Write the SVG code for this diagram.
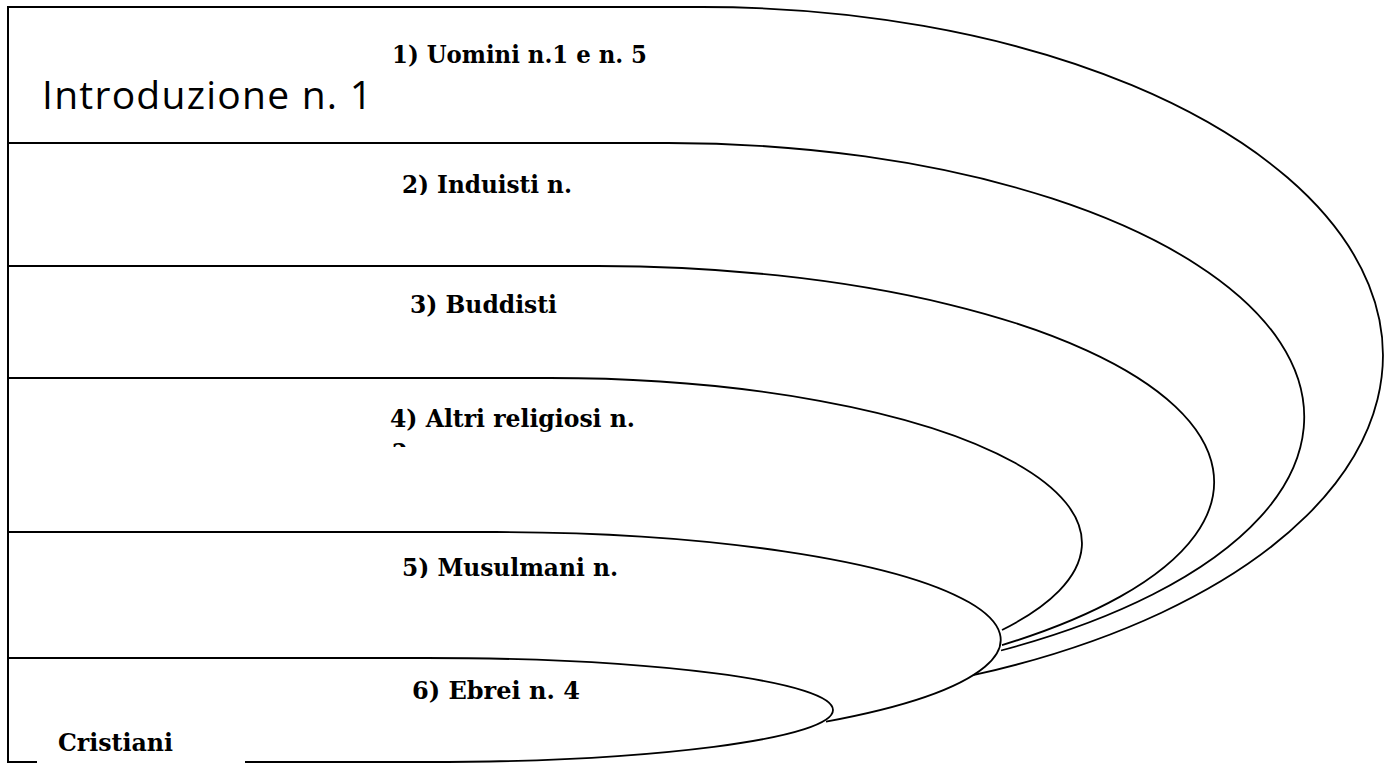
<svg xmlns="http://www.w3.org/2000/svg" width="1390" height="763" viewBox="0 0 1390 763">
  <style>
    .ring { fill: none; stroke: #000; stroke-width: 1.8; stroke-linejoin: round; }
    .edge { fill: none; stroke: #000; stroke-width: 2; }
    .label { font-family: "DejaVu Serif Condensed", "DejaVu Serif", "Liberation Serif", serif; font-weight: bold; font-size: 25px; fill: #000; }
    .title { font-family: "Open Sans", "Liberation Sans", sans-serif; font-size: 39px; fill: #000; }
  </style>
  <defs>
    <clipPath id="clip-induisti"><rect x="380" y="160" width="260" height="35"/></clipPath>
    <clipPath id="clip-musulmani"><rect x="380" y="545" width="260" height="33"/></clipPath>
    <clipPath id="clip-altri-next"><rect x="380" y="440" width="40" height="7"/></clipPath>
  </defs>

  <rect width="1390" height="763" fill="#fff"/>

  <!-- nested half-ovals, outermost first -->
  <g id="layer-1-uomini">
    <path class="ring" d="M8,7 H702 A681,348.5 0 0 1 973,675.2"/>
    <text class="title" x="42" y="109" textLength="330" lengthAdjust="spacing">Introduzione n. 1</text>
    <text class="label" x="392" y="63" textLength="255" lengthAdjust="spacingAndGlyphs">1) Uomini n.1 e n. 5</text>
  </g>

  <g id="layer-2-induisti">
    <path class="ring" d="M8,143 H668 A636,274 0 0 1 1001,650.5"/>
    <text class="label" x="402" y="193" textLength="170" lengthAdjust="spacingAndGlyphs" clip-path="url(#clip-induisti)">2) Induisti n.</text>
  </g>

  <g id="layer-3-buddisti">
    <path class="ring" d="M8,266 H598 A616,216 0 0 1 1002,645.1"/>
    <text class="label" x="410" y="313" textLength="147" lengthAdjust="spacingAndGlyphs">3) Buddisti</text>
  </g>

  <g id="layer-4-altri">
    <path class="ring" d="M8,378 H550 A532,165 0 0 1 1002,630"/>
    <text class="label" x="390" y="427" textLength="245" lengthAdjust="spacingAndGlyphs">4) Altri religiosi n.</text>
    <!-- second line of the box, cut off by its frame -->
    <text class="label" x="392" y="461" clip-path="url(#clip-altri-next)">2</text>
  </g>

  <g id="layer-5-musulmani">
    <path class="ring" d="M8,532 H496 A505,108 0 0 1 826,721.7"/>
    <text class="label" x="402" y="576" textLength="216" lengthAdjust="spacingAndGlyphs" clip-path="url(#clip-musulmani)">5) Musulmani n.</text>
  </g>

  <g id="layer-6-ebrei">
    <path class="ring" d="M8,658 H426 A407,52 0 0 1 833,710 A407,52 0 0 1 426,762 H8"/>
    <text class="label" x="412" y="699" textLength="168" lengthAdjust="spacingAndGlyphs">6) Ebrei n. 4</text>
  </g>

  <g id="core-cristiani">
    <rect x="37" y="726" width="208" height="37" fill="#fff"/>
    <text class="label" x="58" y="751" textLength="115" lengthAdjust="spacingAndGlyphs">Cristiani</text>
  </g>

  <!-- shared left edge of all layers -->
  <g id="frame">
    <path class="edge" d="M8,6 V763"/>
  </g>
</svg>
